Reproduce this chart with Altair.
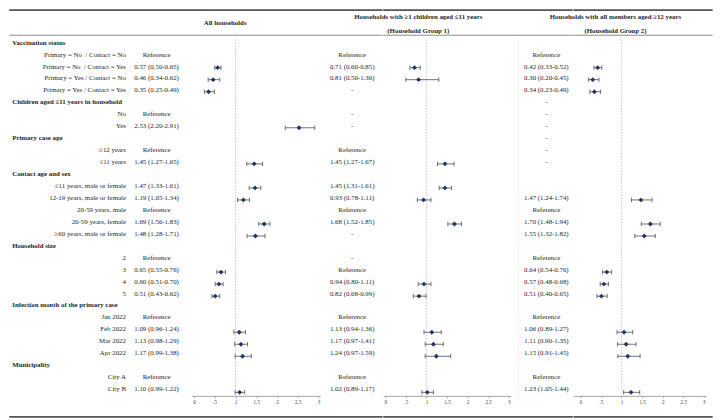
import altair as alt
import pandas as pd

# ---------------- data ----------------
row_labels = [
    "Vaccination status",
    "Primary = No\u00a0 / Contact = No",
    "Primary = No\u00a0 / Contact = Yes",
    "Primary = Yes / Contact = No",
    "Primary = Yes / Contact = Yes",
    "Children aged \u226411 years in household",
    "No",
    "Yes",
    "Primary case age",
    "\u226512 years",
    "\u226411 years",
    "Contact age and sex",
    "\u226411 years, male or female",
    "12-19 years, male or female",
    "20-59 years, male",
    "20-59 years, female",
    "\u226560 years, male or female",
    "Household size",
    "2",
    "3",
    "4",
    "5",
    "Infection month of the primary case",
    "Jan 2022",
    "Feb 2022",
    "Mar 2022",
    "Apr 2022",
    "Municipality",
    "City A",
    "City B",
]
header_rows = [0, 5, 8, 11, 17, 22, 27]

col_titles = {
    "all": ["All households"],
    "g1": ["Households with \u22651 children aged \u226411 years", "(Household Group 1)"],
    "g2": ["Households with all members aged \u226512 years", "(Household Group 2)"],
}

all_rows = [2, 3, 4, 7, 10, 12, 13, 15, 16, 19, 20, 21, 24, 25, 26, 29]
all_or = [0.57, 0.46, 0.35, 2.53, 1.45, 1.47, 1.19, 1.69, 1.48, 0.65, 0.60, 0.51, 1.09, 1.13, 1.17, 1.10]
all_lo = [0.50, 0.34, 0.25, 2.20, 1.27, 1.33, 1.05, 1.56, 1.28, 0.55, 0.51, 0.43, 0.96, 0.98, 0.99, 0.99]
all_hi = [0.65, 0.62, 0.49, 2.91, 1.65, 1.61, 1.34, 1.83, 1.71, 0.76, 0.70, 0.62, 1.24, 1.29, 1.38, 1.22]
all_ref_rows = [1, 6, 9, 14, 18, 23, 28]
all_dash_rows = []

g1_rows = [2, 3, 10, 12, 13, 15, 20, 21, 24, 25, 26, 29]
g1_or = [0.71, 0.81, 1.45, 1.45, 0.93, 1.68, 0.94, 0.82, 1.13, 1.17, 1.24, 1.02]
g1_lo = [0.60, 0.50, 1.27, 1.31, 0.78, 1.52, 0.80, 0.68, 0.94, 0.97, 0.97, 0.89]
g1_hi = [0.85, 1.30, 1.67, 1.61, 1.11, 1.85, 1.11, 0.99, 1.36, 1.41, 1.59, 1.17]
g1_ref_rows = [1, 9, 14, 19, 23, 28]
g1_dash_rows = [4, 6, 7, 16, 18]

g2_rows = [2, 3, 4, 13, 15, 16, 19, 20, 21, 24, 25, 26, 29]
g2_or = [0.42, 0.30, 0.34, 1.47, 1.70, 1.55, 0.64, 0.57, 0.51, 1.06, 1.11, 1.15, 1.23]
g2_lo = [0.33, 0.20, 0.23, 1.24, 1.48, 1.32, 0.54, 0.48, 0.40, 0.89, 0.90, 0.91, 1.05]
g2_hi = [0.52, 0.45, 0.49, 1.74, 1.94, 1.82, 0.76, 0.68, 0.65, 1.27, 1.35, 1.45, 1.44]
g2_ref_rows = [1, 14, 18, 23, 28]
g2_dash_rows = [5, 6, 7, 8, 9, 10]

ref_value = [1]
axis_ticks = [0, 0.5, 1, 1.5, 2, 2.5, 3]
axis_tick_labels = ["0", ".5", "1", "1.5", "2", "2.5", "3"]

groups = {
    "all": dict(rows=all_rows, est=all_or, lo=all_lo, hi=all_hi, ref=all_ref_rows, dash=all_dash_rows),
    "g1": dict(rows=g1_rows, est=g1_or, lo=g1_lo, hi=g1_hi, ref=g1_ref_rows, dash=g1_dash_rows),
    "g2": dict(rows=g2_rows, est=g2_or, lo=g2_lo, hi=g2_hi, ref=g2_ref_rows, dash=g2_dash_rows),
}

# ---------------- layout / style ----------------
FONT = "Liberation Serif"
FS = 6.9
TXT = "#262626"
NAVY = "#1d3866"
WHISK = "#4d4d55"
REFCOL = "#a7bbd0"

W_TOTAL, H_TOTAL = 706, 412
SX = W_TOTAL / 722.0
SY = (H_TOTAL - 3) / 417.0


def px(x):
    return x * SX


def py(y):
    return 1 + (y - 1) * SY


def row_domain(y0, pitch):
    def r_at(p):
        return (((p - 1) / SY + 1) - y0) / pitch
    return [r_at(0), r_at(H_TOTAL)]


text_dom = row_domain(34.3, 12.25)
mark_dom = row_domain(35.3, 12.33)

X0 = {"all": 190.0, "g1": 386.0, "g2": 586.0}
X3 = {"all": 318.0, "g1": 513.0, "g2": 713.0}
DOM_LO, DOM_HI = -0.05, 3.05


def fx(g, v):
    return X0[g] + (X3[g] - X0[g]) * v / 3.0


def fv(g, x_ref):
    return (x_ref - X0[g]) * 3.0 / (X3[g] - X0[g])


LEFT = {g: fx(g, DOM_LO) for g in X0}
RIGHT = {g: fx(g, DOM_HI) for g in X0}
GAP = px(LEFT["g1"]) - px(RIGHT["all"])
# one common spacing: the third panel's domain starts a little earlier instead
LEFT["g2"] = RIGHT["g1"] + GAP / SX
DOMAINS = {g: [fv(g, LEFT[g]), DOM_HI] for g in X0}
WID = {g: px(RIGHT[g]) - px(LEFT[g]) for g in X0}

est_center = {"all": 151.5, "g1": 352.0, "g2": 551.0}
title_center = {"all": 222.0, "g1": 420.0, "g2": 622.0}
title_y = {"all": [14.3], "g1": [8.0, 22.5], "g2": [8.0, 22.5]}

one = pd.DataFrame({"k": [0]})


def rel(g, x_ref):
    """reference-picture x -> pixel x inside panel g"""
    return px(x_ref) - px(LEFT[g])


def Yt():
    return alt.Y("row:Q", scale=alt.Scale(domain=text_dom, reverse=True, nice=False, zero=False), axis=None)


def Ym():
    return alt.Y("row:Q", scale=alt.Scale(domain=mark_dom, reverse=True, nice=False, zero=False), axis=None)


label_expr = "''"
for v, l in reversed(list(zip(axis_ticks, axis_tick_labels))):
    label_expr = f"datum.value == {v} ? '{l}' : {label_expr}"

xaxis = alt.Axis(values=axis_ticks, labelExpr=label_expr, grid=False,
                 offset=py(396.5) - H_TOTAL, tickSize=2, tickWidth=0.6,
                 tickColor="#808080", domainColor="#808080", domainWidth=0.7,
                 labelFont=FONT, labelFontSize=5.2, labelColor="#444444",
                 labelPadding=1.2, labelFlush=False)


def X(field, g):
    return alt.X(f"{field}:Q", scale=alt.Scale(domain=DOMAINS[g], nice=False, zero=False),
                 axis=xaxis, title=None)


def frame_lines(x0, x1):
    lines = []
    for yy, sw, col in [(1, 1.6, "#555555"), (26.7, 1.0, "#8c8c8c"), (418, 1.6, "#555555")]:
        lines.append(
            alt.Chart(one).mark_rule(color=col, strokeWidth=sw).encode(
                x=alt.value(x0), x2=alt.value(x1), y=alt.value(py(yy)))
        )
    return lines


def text_layer(df, xpos, align, bold=False):
    return alt.Chart(df).mark_text(
        align=align, baseline="middle", font=FONT, fontSize=FS, color=TXT,
        fontWeight="bold" if bold else "normal"
    ).encode(x=alt.value(xpos), y=Yt(), text="text:N")


def est_df(g):
    d = groups[g]
    rows, texts = [], []
    for r, o, l, h in zip(d["rows"], d["est"], d["lo"], d["hi"]):
        rows.append(r)
        texts.append(f"{o:.2f} ({l:.2f}-{h:.2f})")
    for r in d["ref"]:
        rows.append(r)
        texts.append("Reference")
    for r in d["dash"]:
        rows.append(r)
        texts.append("-")
    return pd.DataFrame({"row": rows, "text": texts})


def forest_panel(g, frame_x0, frame_x1, extra=()):
    d = groups[g]
    df = pd.DataFrame({"row": d["rows"], "est": d["est"], "lo": d["lo"], "hi": d["hi"]})
    layers = frame_lines(frame_x0, frame_x1)
    layers.extend(extra)
    layers.append(text_layer(est_df(g), rel(g, est_center[g]), "center"))
    layers.append(
        alt.Chart(pd.DataFrame({"v": ref_value})).mark_rule(
            color=REFCOL, strokeDash=[1.5, 1.5], strokeWidth=0.8
        ).encode(x=X("v", g), y=alt.value(py(31)), y2=alt.value(py(396)))
    )
    layers.append(alt.Chart(df).mark_rule(color=WHISK, strokeWidth=0.8).encode(
        x=X("lo", g), x2="hi:Q", y=Ym()))
    for f in ["lo", "hi"]:
        layers.append(alt.Chart(df).mark_point(
            shape="M0,-1L0,1", filled=False, size=20, strokeWidth=0.8, color=WHISK, opacity=1
        ).encode(x=X(f, g), y=Ym()))
    layers.append(alt.Chart(df).mark_point(shape="diamond", filled=True, size=24, color=NAVY, opacity=1).encode(
        x=X("est", g), y=Ym()))
    for line, yy in zip(col_titles[g], title_y[g]):
        layers.append(alt.Chart(pd.DataFrame({"text": [line]})).mark_text(
            align="center", baseline="middle", font=FONT, fontSize=FS, color=TXT, fontWeight="bold"
        ).encode(x=alt.value(rel(g, title_center[g])), y=alt.value(py(yy)), text="text:N"))
    return alt.layer(*layers).resolve_scale(y="independent").properties(width=WID[g], height=H_TOTAL)


# row labels live in the first panel, to the left of its plot area
lab_df = pd.DataFrame({"row": list(range(len(row_labels))), "text": row_labels})
hdr_df = lab_df[lab_df["row"].isin(header_rows)]
itm_df = lab_df[~lab_df["row"].isin(header_rows)]
label_layers = [
    text_layer(hdr_df, rel("all", 3), "left", bold=True),
    text_layer(itm_df, rel("all", 120), "right"),
]

faint_line = alt.Chart(one).mark_rule(color="#ebebeb", strokeWidth=0.8).encode(
    x=alt.value(rel("g2", 522)), y=alt.value(py(30)), y2=alt.value(py(400)))

p_all = forest_panel("all", -px(LEFT["all"]), WID["all"] + GAP, extra=label_layers)
p_g1 = forest_panel("g1", 0, WID["g1"] + GAP)
p_g2 = forest_panel("g2", 0, W_TOTAL - px(LEFT["g2"]), extra=[faint_line])

chart = alt.hconcat(
    p_all, p_g1, p_g2, spacing=GAP, bounds="flush"
).properties(padding=0).configure_view(stroke=None)

chart.save("out.html", embed_options={"renderer": "svg", "actions": False})
